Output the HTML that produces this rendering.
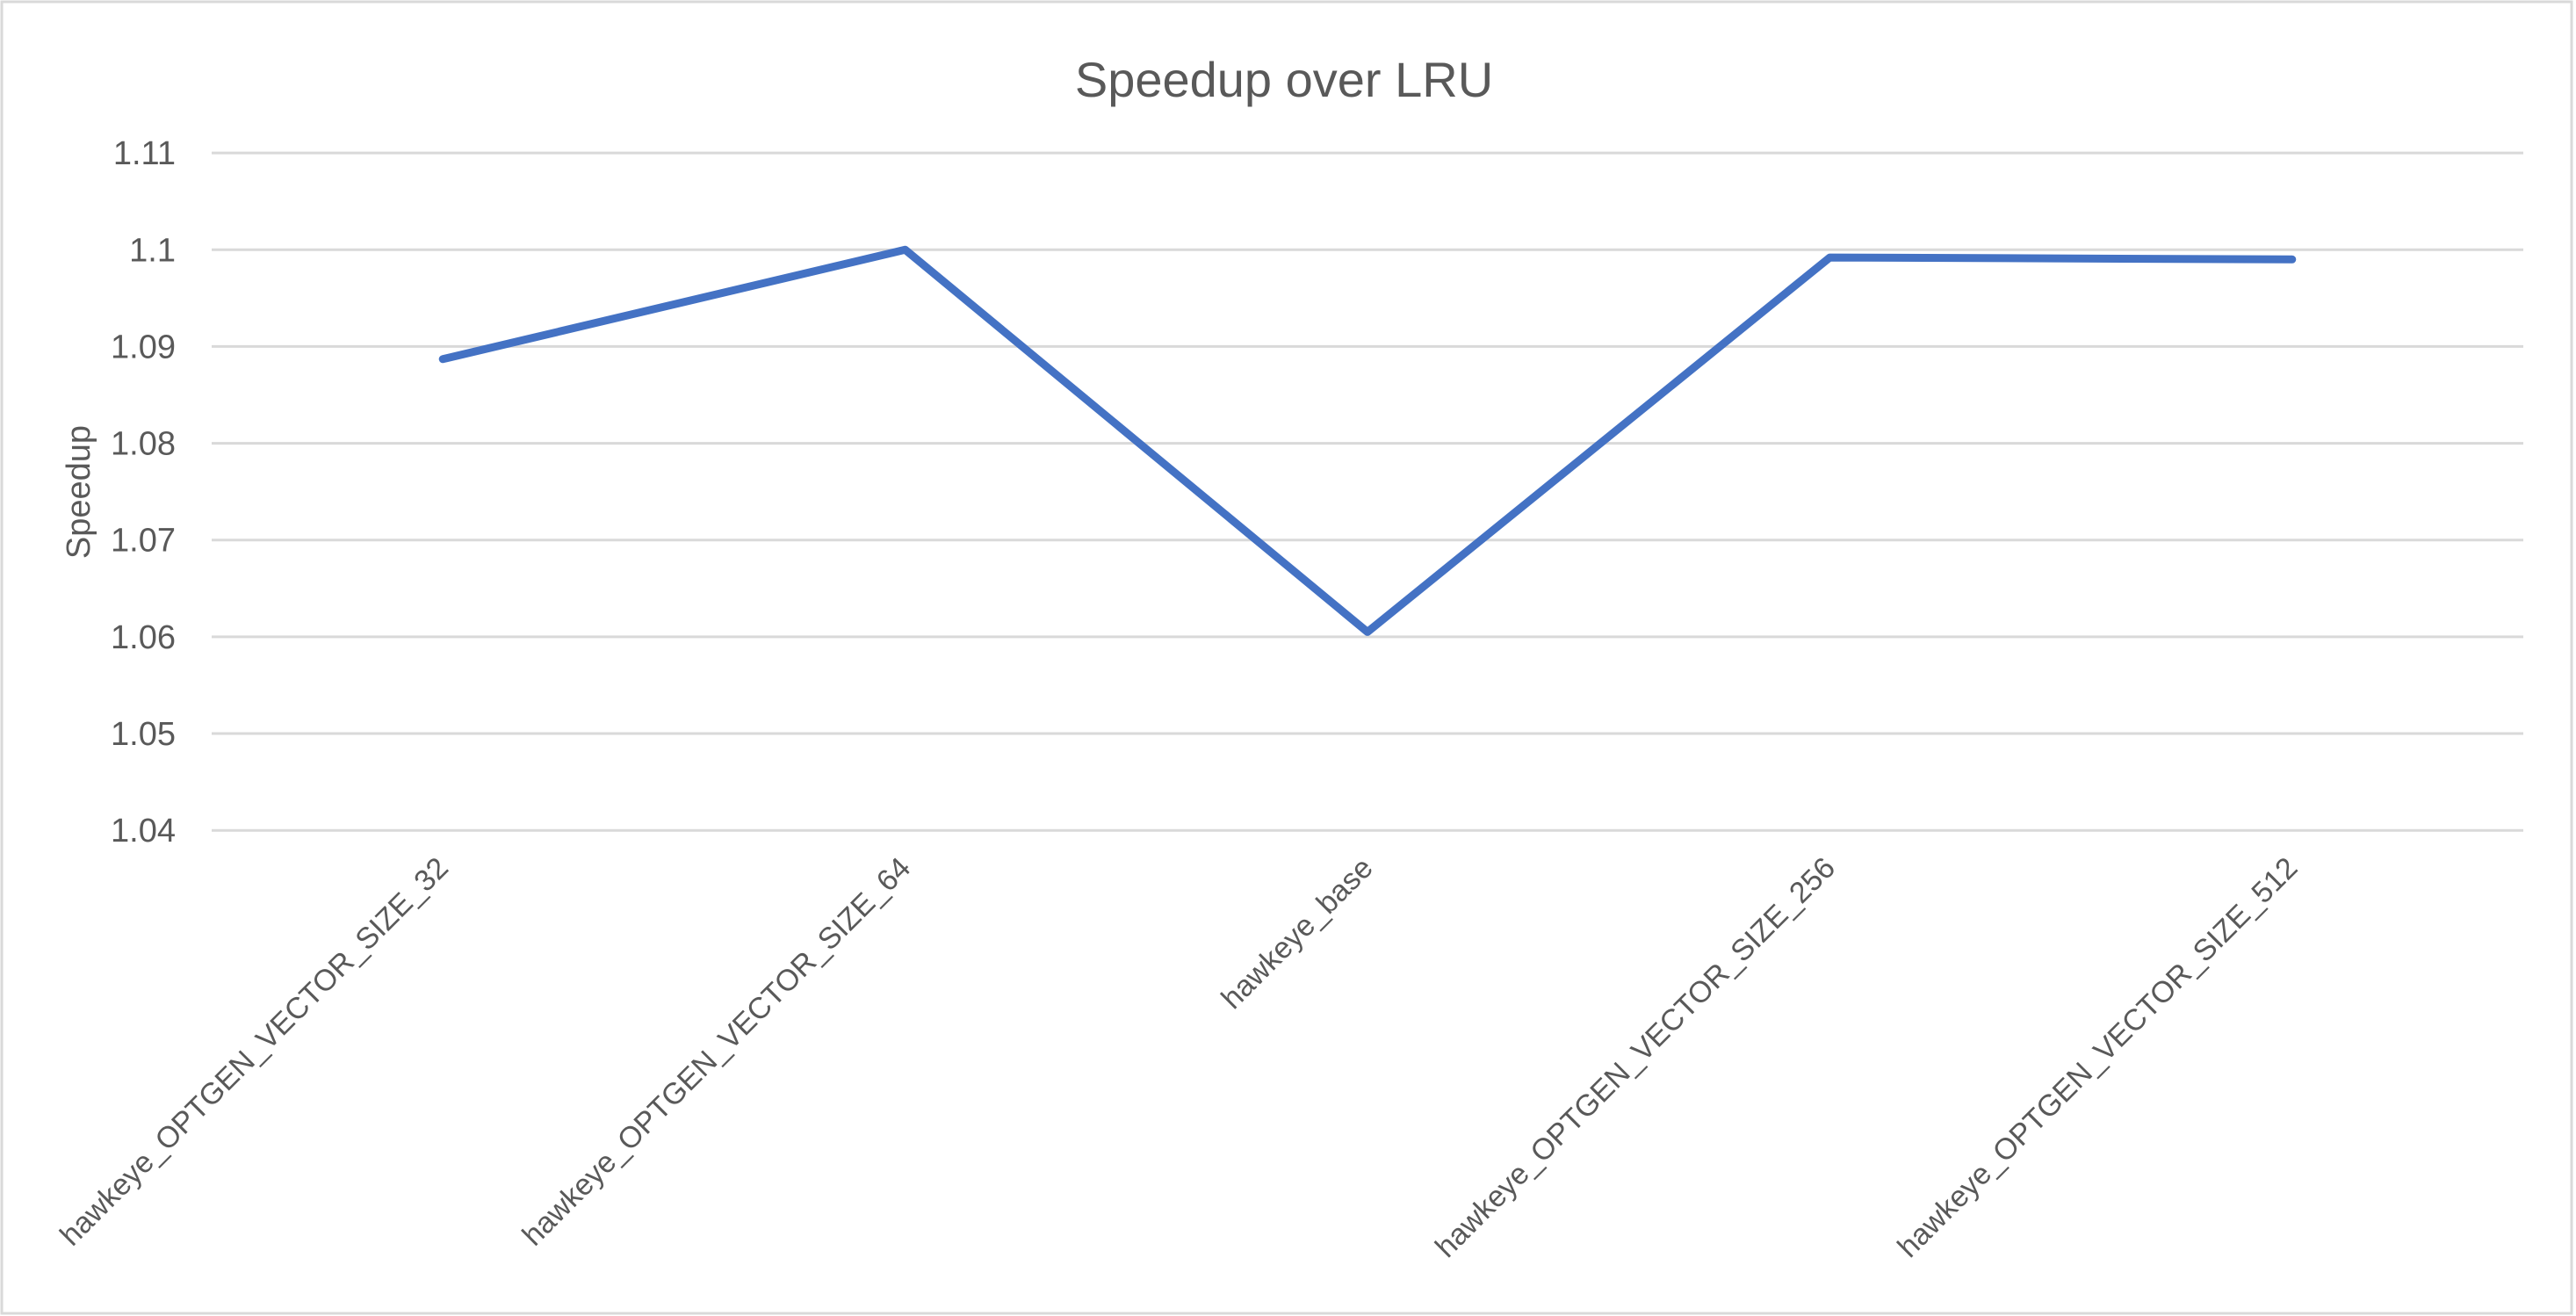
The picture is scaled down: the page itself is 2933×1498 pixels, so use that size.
<!DOCTYPE html>
<html><head><meta charset="utf-8"><style>
html,body{margin:0;padding:0;background:#fff;}
svg{display:block;font-family:"Liberation Sans",sans-serif;}
</style></head><body>
<svg id="chart" width="2933" height="1498" viewBox="0 0 2933 1498" xmlns="http://www.w3.org/2000/svg">
<rect x="2" y="2" width="2926" height="1493" fill="#fff" stroke="#d9d9d9" stroke-width="3"/>
<text x="1462" y="110" font-size="56" fill="#595959" text-anchor="middle">Speedup over LRU</text>
<text transform="translate(102,560) rotate(-90)" font-size="38" fill="#595959" text-anchor="middle">Speedup</text>
<g id="grid"></g><g id="yticks"></g><g id="xticks"></g><g id="series"></g>
</svg>
<script>
const categories = ["hawkeye_OPTGEN_VECTOR_SIZE_32","hawkeye_OPTGEN_VECTOR_SIZE_64","hawkeye_base","hawkeye_OPTGEN_VECTOR_SIZE_256","hawkeye_OPTGEN_VECTOR_SIZE_512"];
const speedup = [1.0887, 1.1000, 1.0605, 1.0992, 1.0990];
const yTicks = [1.04, 1.05, 1.06, 1.07, 1.08, 1.09, 1.1, 1.11];
const yTickLabels = ["1.04","1.05","1.06","1.07","1.08","1.09","1.1","1.11"];

const NS = "http://www.w3.org/2000/svg";
const L = 241, R = 2873, yTop = 174.1, yBot = 945.2, vMin = 1.04, vMax = 1.11;
const y = v => yBot - (v - vMin) / (vMax - vMin) * (yBot - yTop);
const band = (R - L) / categories.length;
const x = i => L + band * (i + 0.5);
function mk(tag, attrs, parent) { const e = document.createElementNS(NS, tag); for (const k in attrs) e.setAttribute(k, attrs[k]); parent.appendChild(e); return e; }

const grid = document.getElementById('grid'), yt = document.getElementById('yticks'), xt = document.getElementById('xticks'), ser = document.getElementById('series');
yTicks.forEach((v, i) => {
  const ln = mk('line', {x1: L, x2: R, y1: y(v), y2: y(v), stroke: '#d9d9d9', 'stroke-width': 3}, grid);
  
  
  const t = mk('text', {x: 200, y: y(v) + 13, 'font-size': 38, fill: '#595959', 'text-anchor': 'end'}, yt);
  t.textContent = yTickLabels[i];
  
  
});
categories.forEach((c, i) => {
  const tx = x(i) + 8, ty = 990;
  const t = mk('text', {x: tx, y: ty, 'font-size': 34, fill: '#595959', 'text-anchor': 'end', transform: `rotate(-45 ${tx} ${ty})`}, xt);
  t.textContent = c;
  
  
});
const pts = speedup.map((v, i) => `${x(i)},${y(v)}`).join(' ');
const pl = mk('polyline', {points: pts, fill: 'none', stroke: '#4472c4', 'stroke-width': 9, 'stroke-linejoin': 'round', 'stroke-linecap': 'round'}, ser);


</script>
</body></html>
